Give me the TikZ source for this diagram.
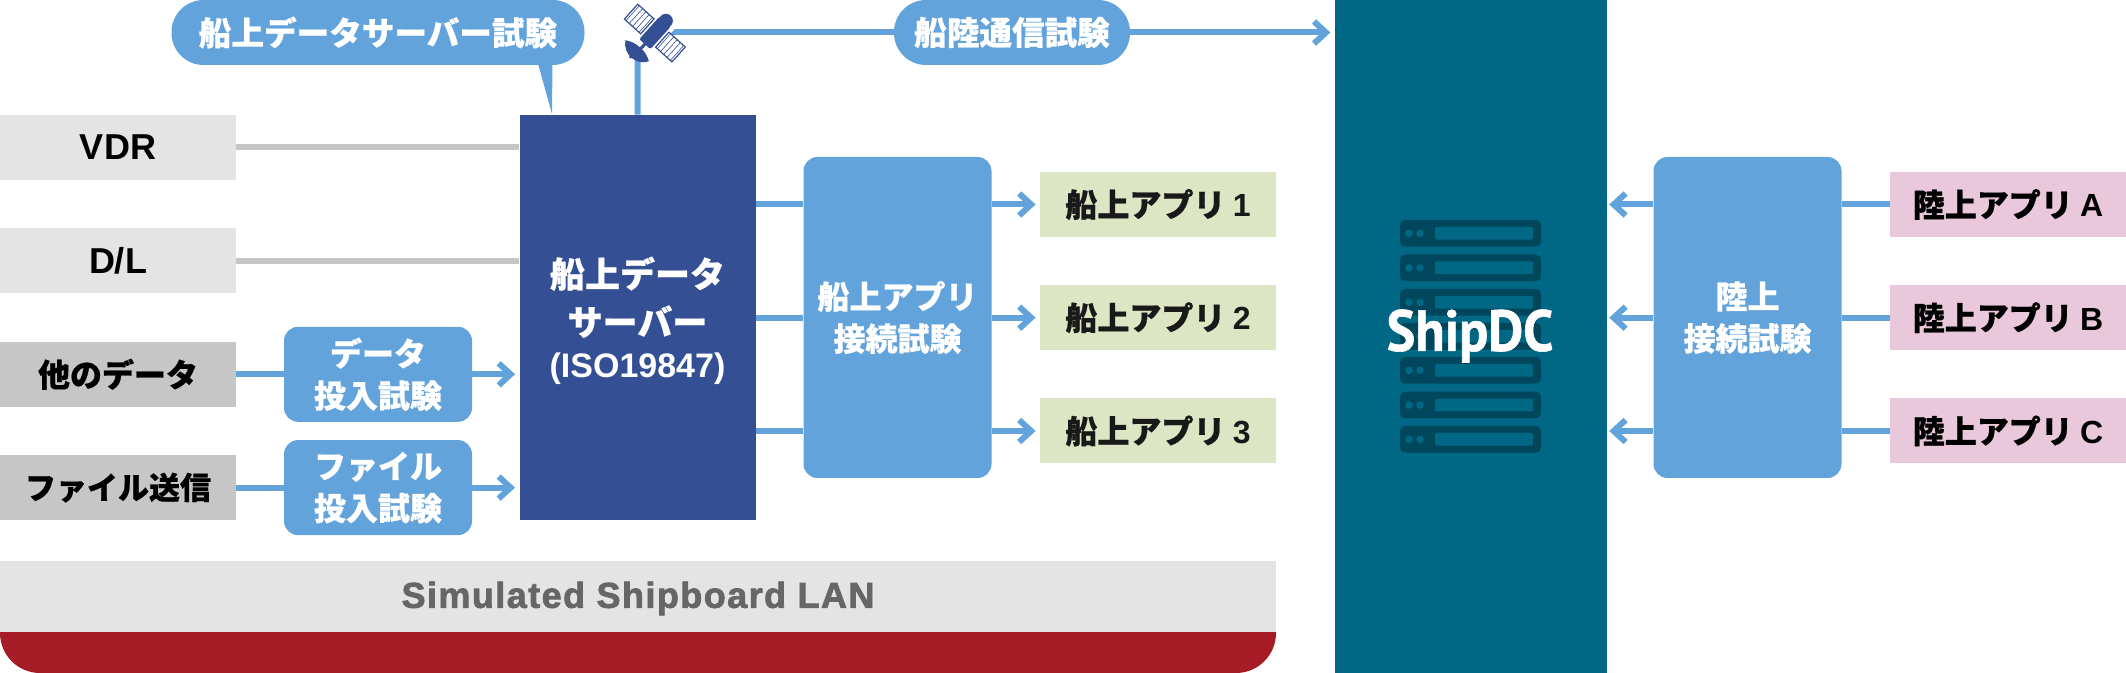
\documentclass[tikz,border=0pt]{standalone}
\usepackage{fontspec}
\setmainfont{Noto Sans CJK JP}[BoldFont={Noto Sans CJK JP Black},BoldFeatures={FakeBold=0.6}]
\newfontfamily\latfont{Liberation Sans}
\newfontfamily\lanfont[LetterSpace=4,FakeBold=2]{Liberation Sans Bold}
\newfontfamily\logofont[FakeStretch=0.93,FakeBold=1]{PT Sans Bold}
\usetikzlibrary{arrows.meta}
\definecolor{testblue}{HTML}{63A3DC}
\definecolor{navy}{HTML}{344F94}
\definecolor{lightgrey}{HTML}{E4E4E4}
\definecolor{midgrey}{HTML}{C6C6C6}
\definecolor{appgreen}{HTML}{DCE6C4}
\definecolor{apppink}{HTML}{E9C8DC}
\definecolor{lanred}{HTML}{A61C26}
\definecolor{teal}{HTML}{006885}
\definecolor{rackdark}{HTML}{00465C}
\tikzset{
  base/.style={inner sep=0pt,align=center,font=\bfseries\fontsize{16pt}{21pt}\selectfont},
  srcbox/.style={base,fill=#1,text=black,minimum width=118pt,minimum height=32.5pt},
  testbox/.style={base,fill=testblue,text=white,rounded corners=7pt,minimum width=94pt},
  pill/.style={base,fill=testblue,text=white,rounded corners=16pt,minimum height=32.5pt},
  feed/.style={midgrey,line width=3pt},
  link/.style={testblue,line width=3pt},
  arrow/.style={link,-{Straight Barb[length=6pt,width=11pt]},shorten >=2pt},
}
\begin{document}
\begin{tikzpicture}[x=0.5pt,y=-0.5pt]
    \useasboundingbox (0,0) rectangle (2126,673);
    %% Simulated LAN
    \fill[lanred] (0,632) [rounded corners=20pt] -- (0,673) -- (1276,673) [sharp corners] -- (1276,632) -- cycle;
    \node[base,fill=lightgrey,minimum width=638pt,minimum height=35.5pt] (LAN) at (638,596) {};
    \node[base,text=black!60] (LANText) at (638,598.5) {\lanfont\fontsize{18pt}{18pt}\selectfont Simulated Shipboard LAN};
    %% Data centre
    \node[fill=teal,minimum width=136pt,minimum height=336.5pt,inner sep=0pt] (Ship) at (1470.8,336.5) {};
    \foreach \y in {220,254.5,289,323,357,391.7,426} {
      \fill[rackdark,rounded corners=2.5pt] (1400,\y) rectangle (1541,\y+26.7);
      \fill[teal] (1409,\y+13.3) circle[radius=3.8] (1420,\y+13.3) circle[radius=3.8];
      \fill[teal,rounded corners=1pt] (1435,\y+7) rectangle (1533,\y+19.7);
    }
    \node[inner sep=0pt,text=white] (Logo) at (1470,336) {\logofont\fontsize{29pt}{29pt}\selectfont ShipDC};
    %% Ship side sources
    \node[srcbox=lightgrey] (VDR) at (118,147.5) {\latfont\bfseries\fontsize{18pt}{18pt}\selectfont VDR};
    \node[srcbox=lightgrey] (DL) at (118,261) {\latfont\bfseries\fontsize{18pt}{18pt}\selectfont D/L};
    \node[srcbox=midgrey] (Other) at (118,374.3) {他のデータ};
    \node[srcbox=midgrey] (File) at (118,487.6) {\fontsize{15.5pt}{21pt}\selectfont ファイル送信};
    %% Server
    \node[base,fill=navy,minimum width=118pt,minimum height=202.5pt] (Server) at (637.5,317.5) {};
    \node[base,text=white,font=\bfseries\fontsize{17.5pt}{24pt}\selectfont] (ServerText) at (637.5,320.5) {船上データ\\サーバー\\[-3pt]{\latfont\bfseries\fontsize{17pt}{20pt}\selectfont (ISO19847)}};
    %% Tests
    \node[testbox,minimum height=47.5pt] (DataTest) at (378,374.3) {データ\\投入試験};
    \node[testbox,minimum height=47.5pt] (FileTest) at (378,487.6) {ファイル\\投入試験};
    \node[testbox,minimum height=160.5pt] (AppTest) at (897.5,317.5) {船上アプリ\\接続試験};
    \node[testbox,minimum height=160.5pt] (LandTest) at (1747.5,317.5) {陸上\\接続試験};
    %% Applications
    \node[srcbox=appgreen,text=black!90] (App1) at (1158,204.5) {船上アプリ {\latfont\bfseries 1}};
    \node[srcbox=appgreen,text=black!90] (App2) at (1158,317.7) {船上アプリ {\latfont\bfseries 2}};
    \node[srcbox=appgreen,text=black!90] (App3) at (1158,431) {船上アプリ {\latfont\bfseries 3}};
    \node[srcbox=apppink] (LandA) at (2008,204.5) {陸上アプリ {\latfont\bfseries A}};
    \node[srcbox=apppink] (LandB) at (2008,317.7) {陸上アプリ {\latfont\bfseries B}};
    \node[srcbox=apppink] (LandC) at (2008,431) {陸上アプリ {\latfont\bfseries C}};
    %% Balloons
    \fill[testblue] (537,60) -- (552.5,60) -- (552,114) -- cycle;
    \node[pill,minimum width=206.5pt,font=\bfseries\fontsize{16.3pt}{21pt}\selectfont] (ServerTest) at (378,32.5) {船上データサーバー試験};
    \node[pill,minimum width=118pt,font=\bfseries\fontsize{16.3pt}{21pt}\selectfont] (LinkTest) at (1012,32.5) {船陸通信試験};
    %% Connectors
    \coordinate (SatDish) at (637.7,52);
    \coordinate (SatBody) at (660,32.5);
    \draw[feed] (VDR) -- (Server.west |- VDR);
    \draw[feed] (DL) -- (Server.west |- DL);
    \draw[link] (Other) -- (DataTest);
    \draw[link] (File) -- (FileTest);
    \draw[arrow] (DataTest) -- (Server.west |- DataTest);
    \draw[arrow] (FileTest) -- (Server.west |- FileTest);
    \draw[link] (Server.north) -- (SatDish);
    \draw[link] (SatBody) -- (LinkTest);
    \draw[arrow] (LinkTest) -- (Ship.west |- LinkTest);
    \draw[link] (Server.east |- App1) -- (AppTest.west |- App1);
    \draw[link] (Server.east |- App2) -- (AppTest.west |- App2);
    \draw[link] (Server.east |- App3) -- (AppTest.west |- App3);
    \draw[arrow] (AppTest.east |- App1) -- (App1);
    \draw[arrow] (AppTest.east |- App2) -- (App2);
    \draw[arrow] (AppTest.east |- App3) -- (App3);
    \draw[link] (LandA) -- (LandTest.east |- LandA);
    \draw[link] (LandB) -- (LandTest.east |- LandB);
    \draw[link] (LandC) -- (LandTest.east |- LandC);
    \draw[arrow,shorten >=1pt] (LandTest.west |- LandA) -- (Ship.east |- LandA);
    \draw[arrow,shorten >=1pt] (LandTest.west |- LandB) -- (Ship.east |- LandB);
    \draw[arrow,shorten >=1pt] (LandTest.west |- LandC) -- (Ship.east |- LandC);
    %% Satellite
    \begin{scope}[shift={(655.5,32.3)},rotate=-42]
      \fill[white] (-12,-20) rectangle (12,20);
      \fill[navy] (0,-15.5) circle[radius=7];
      \fill[navy,rounded corners=1pt] (-7.5,-14.5) rectangle (7.5,16);
      \fill[navy] (-1.5,16) rectangle (1.5,22);
      \fill[navy] (-17,26) .. controls (-8,20) and (6,20) .. (14.5,26) .. controls (8,38) and (-10,38) .. cycle;
      \fill[navy] (-2,35) circle[radius=1.8];
      \foreach \cx in {-21,21} {
        \begin{scope}[shift={(\cx,1)}]
          \fill[white,draw=navy,line width=0.6pt] (-11,-10) rectangle (11,10);
          \draw[navy,line width=0.3pt,xstep=4.4,ystep=4] (-11,-10) grid (11,10);
        \end{scope}
      }
    \end{scope}
\end{tikzpicture}
\end{document}
